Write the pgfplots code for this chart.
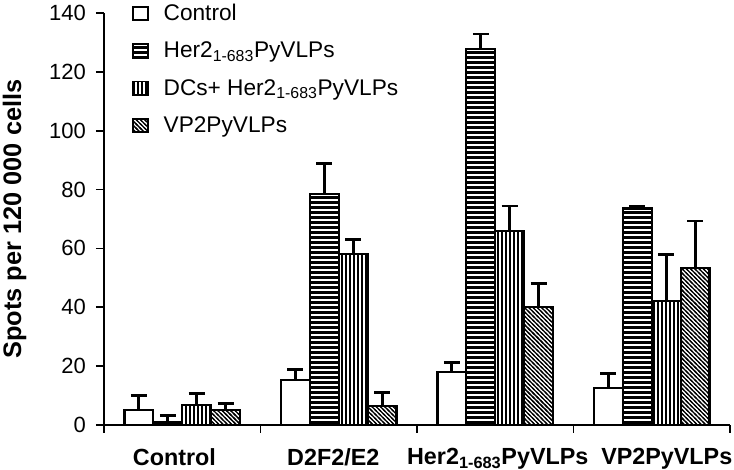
\documentclass[border=0pt]{standalone}
\usepackage{fontspec}
\setmainfont{Liberation Sans}
\usepackage{pgfplots}
\usepackage{pgfplotstable}
\pgfplotsset{compat=1.18}
\usetikzlibrary{patterns}

% stripe patterns; tiles overlap so no seams show
\pgfdeclarepatternformonly{hstripes}{\pgfpoint{-1pt}{-1pt}}{\pgfpoint{4.75pt}{4.75pt}}{\pgfpoint{3.75pt}{3.75pt}}{
  \pgfsetlinewidth{2.6pt}
  \pgfpathmoveto{\pgfpoint{-1pt}{1.875pt}}
  \pgfpathlineto{\pgfpoint{4.75pt}{1.875pt}}
  \pgfusepath{stroke}}
\pgfdeclarepatternformonly{vstripes}{\pgfpoint{-1pt}{-1pt}}{\pgfpoint{4pt}{4pt}}{\pgfpoint{3pt}{3pt}}{
  \pgfsetlinewidth{1pt}
  \pgfpathmoveto{\pgfpoint{1.5pt}{-1pt}}
  \pgfpathlineto{\pgfpoint{1.5pt}{4pt}}
  \pgfusepath{stroke}}
\pgfdeclarepatternformonly{dstripes}{\pgfpoint{-1pt}{-1pt}}{\pgfpoint{4.2pt}{4.2pt}}{\pgfpoint{3.2pt}{3.2pt}}{
  \pgfsetlinewidth{0.95pt}
  \pgfpathmoveto{\pgfpoint{-1pt}{4.2pt}}
  \pgfpathlineto{\pgfpoint{4.2pt}{-1pt}}
  \pgfusepath{stroke}}

% group, then value and upper error for each series
\pgfplotstableread{
x  c     ce   h      he    d     de    v     ve
0  5.1   4.9  1.1    2.1   6.8   4.0   5.2   2.2
1  15.3  3.6  78.5   10.4  58.0  5.1   6.5   4.5
2  18.1  3.1  127.7  5.2   65.9  8.5   40.2  7.9
3  12.5  5.1  73.6   0.8   42.2  15.8  53.4  15.9
}\spots

\begin{document}
\begin{tikzpicture}
\begin{axis}[
    name=ax,
    scale only axis,
    width=469.5pt, height=309pt,
    xmin=-0.5, xmax=3.5,
    ymin=0, ymax=140,
    axis lines*=left,
    axis line style={line width=1.5pt},
    every tick/.style={black, line width=1.3pt},
    tick align=outside,
    major tick length=6pt,
    ytick={0,20,...,140},
    yticklabel style={font=\fontsize{16.5}{19}\selectfont, xshift=-4pt},
    /pgf/number format/assume math mode=true,
    xtick={-0.5,0.5,1.5,2.5,3.5},
    xticklabels={},
    extra x ticks={-0.05,0.965,2.016,3.096},
    extra x tick labels={Control, D2F2/E2, Her2\textsubscript{1-683}PyVLPs, VP2PyVLPs},
    extra x tick style={tick style={draw=none},
        tick label style={font=\bfseries\fontsize{17.5}{20}\selectfont, anchor=north, yshift=-8pt}},
    ylabel={Spots per 120 000 cells},
    ylabel style={font=\bfseries\fontsize{19}{22}\selectfont, at={(axis description cs:-0.162,0.5)}, anchor=north, inner sep=0pt},
    ybar=0pt,
    bar width=0.185,
    legend style={at={(axis description cs:0.045,1.028)}, anchor=north west,
        draw=none, fill=none, inner sep=0pt, row sep=10.5pt,
        font=\fontsize{17}{20}\selectfont,
        /tikz/every odd column/.append style={column sep=9pt}},
    legend cell align=left,
    legend image code/.code={\draw[#1, line width=1.4pt] (0pt,-5pt) rectangle (11pt,5pt);},
    error bars/y dir=plus,
    error bars/y explicit,
    error bars/error mark=|,
    error bars/error bar style={black, line width=2pt},
    error bars/error mark options={black, line width=2pt, mark size=6pt},
]
\addplot[draw=black, line width=1.75pt, fill=white, bar shift=-0.2775]
    table[x=x, y=c, y error=ce]{\spots};
\addlegendentry{Control}
\addplot[draw=black, line width=1.75pt, bar shift=-0.0925, pattern=hstripes]
    table[x=x, y=h, y error=he]{\spots};
\addlegendentry{Her2\textsubscript{1-683}PyVLPs}
\addplot[draw=black, line width=1.75pt, bar shift=0.0925, pattern=vstripes]
    table[x=x, y=d, y error=de]{\spots};
\addlegendentry{DCs+ Her2\textsubscript{1-683}PyVLPs}
\addplot[draw=black, line width=1.75pt, bar shift=0.2775, pattern=dstripes]
    table[x=x, y=v, y error=ve]{\spots};
\addlegendentry{VP2PyVLPs}
\end{axis}
\pgfresetboundingbox
\path[use as bounding box] ([xshift=-78pt, yshift=-33.75pt]ax.south west)
    rectangle ([xshift=3pt, yshift=9.75pt]ax.north east);
\end{tikzpicture}
\end{document}
